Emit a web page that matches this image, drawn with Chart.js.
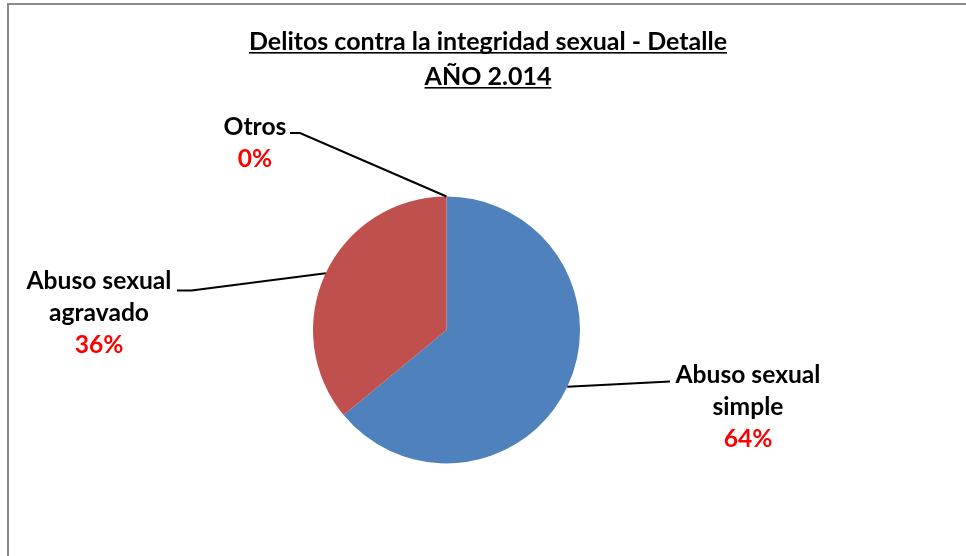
<!DOCTYPE html>
<html><head><meta charset="utf-8">
<script src="https://cdn.jsdelivr.net/npm/chart.js@4"></script>
<style>html,body{margin:0;padding:0;background:#fff}#wrap{width:966px;height:556px;position:relative}</style>
</head><body><div id="wrap"><canvas id="c" width="966" height="556"></canvas></div>
<script>
const categories = ["Abuso sexual simple", "Abuso sexual agravado", "Otros"];
const labelLines = [["Abuso sexual", "simple"], ["Abuso sexual", "agravado"], ["Otros"]];
const values = [64, 36, 0];
const pctLabels = ["64%", "36%", "0%"];
const titleLines = ["Delitos contra la integridad sexual - Detalle", "AÑO 2.014"];
const colors = ["#4F81BD", "#C0504D", "#9BBB59"];

const FONT = "Lato, 'Open Sans', sans-serif";

// label layout: text centre x, first baseline y, leader elbow points
const labelLayout = [
  {cx: 748, y: 383, elbow: [[670, 381.5]]},
  {cx: 99, y: 289, elbow: [[191.5, 290.5], [177, 290.5]]},
  {cx: 255, y: 135, elbow: [[300, 133], [290, 133]]}
];

const deco = {
  id: 'deco',
  beforeDraw(chart) {
    const ctx = chart.ctx;
    ctx.save();
    ctx.fillStyle = '#fff';
    ctx.fillRect(0, 0, chart.width, chart.height);
    ctx.fillStyle = '#8a8a8a';
    ctx.fillRect(7, 3, chart.width - 7, 2);
    ctx.fillRect(7, 3, 2, chart.height - 3);
    ctx.restore();
  },
  afterDraw(chart) {
    const ctx = chart.ctx;
    ctx.save();
    // title
    ctx.fillStyle = '#000';
    ctx.textAlign = 'center';
    ctx.textBaseline = 'alphabetic';
    ctx.font = "bold 20px " + FONT;
    let w0 = ctx.measureText(titleLines[0]).width;
    let fs = 20 * 478 / w0;
    ctx.font = "bold " + fs.toFixed(2) + "px " + FONT;
    const tys = [50, 85];
    titleLines.forEach((t, i) => {
      ctx.fillText(t, 488, tys[i]);
      const w = ctx.measureText(t).width;
      ctx.fillRect(488 - w / 2, tys[i] + 2, w, 1.6);
    });
    // leader lines + labels
    const meta = chart.getDatasetMeta(0);
    ctx.font = "bold 20px " + FONT;
    let lw = ctx.measureText("Abuso sexual").width;
    let lfs = 20 * 145 / lw;
    meta.data.forEach((arc, i) => {
      const p = arc.getProps(['x', 'y', 'startAngle', 'endAngle', 'outerRadius'], true);
      const mid = (p.startAngle + p.endAngle) / 2;
      const ex = p.x + Math.cos(mid) * p.outerRadius;
      const ey = p.y + Math.sin(mid) * p.outerRadius;
      const L = labelLayout[i];
      ctx.strokeStyle = '#000';
      ctx.lineWidth = 2;
      ctx.beginPath();
      ctx.moveTo(ex, ey);
      L.elbow.forEach(pt => ctx.lineTo(pt[0], pt[1]));
      ctx.stroke();
      ctx.font = "bold " + lfs.toFixed(2) + "px " + FONT;
      ctx.fillStyle = '#000';
      ctx.textAlign = 'center';
      const lines = labelLines[i];
      lines.forEach((t, j) => ctx.fillText(t, L.cx, L.y + j * 32));
      ctx.fillStyle = '#FF0000';
      ctx.fillText(pctLabels[i], L.cx, L.y + lines.length * 32);
    });
    ctx.restore();
  }
};

new Chart(document.getElementById('c'), {
  type: 'pie',
  data: {
    labels: categories,
    datasets: [{data: values, backgroundColor: colors, borderWidth: 0, hoverOffset: 0}]
  },
  options: {
    responsive: false,
    animation: false,
    layout: {padding: {left: 313, right: 386, top: 196.5, bottom: 92.5}},
    plugins: {legend: {display: false}, tooltip: {enabled: false}, title: {display: false}}
  },
  plugins: [deco]
});
</script>
</body></html>
